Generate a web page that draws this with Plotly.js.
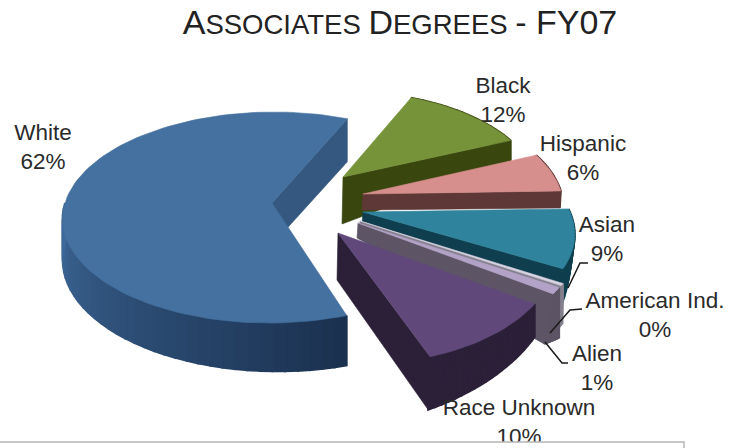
<!DOCTYPE html>
<html>
<head>
<meta charset="utf-8">
<script src="https://cdn.plot.ly/plotly-3.0.1.min.js"></script>
<style>html,body{margin:0;padding:0;background:#fff}#c{width:729px;height:448px}</style>
</head>
<body>
<div id="c"></div>
<script>
// Data
var categories = ['White','Black','Hispanic','Asian','American Ind.','Alien','Race Unknown'];
var values = [61.8,12,6,9,0.3,0.9,10];
// Styles
var topColors = ['#44719f','#779339','#d68f8d','#2f839c','#d9d4e4','#b3a2c7','#60497a'];
var faceColors = ['#34587f','#39470f','#5e3836','#0f3f4e','#85808e','#5d5565','#2b2038'];
var rimFrom = ['#3f6b9b','#39470f','#5e3836','#0f3f4e','#85808e','#5d5565','#2b2038'];
var rimTo = ['#1b3150','#39470f','#5e3836','#0f3f4e','#85808e','#5d5565','#2b2038'];
// Layout of the exploded slices
var apexX = [272,343,363,363,360,358,338];
var apexY = [203,177,194,212,221,223,233];
var scaleX = [1,0.93,0.96,1,1.06,1.06,1.03];
var scaleY = [1,0.94,1,1,1.1,1.1,1.1];
var skew = [-0.025,0,0,0.15,0,0,0.1];
var depthApex = [43,47,16,12,12,15,47];
var depthStart = [50,8,8,0,40,50,33];
var depthEnd = [43,20,17,50,50,50,53];
var leanEnd = [0,0,-1,-7,-9,-9,-2];
var labelX = [43,503,583,607,655,597,519];
var labelY = [149,102,160,241,317,370,424];
var leaderAsianX = [568,580,588], leaderAsianY = [288,263,263];
var leaderIndX = [550,570,582], leaderIndY = [333,310,309];
var leaderAlienX = [545,562,568], leaderAlienY = [342,363,363];

var firstAngle = 71, RX = 207, RY = 103.5, K = 0.1376, rad = Math.PI/180;
var total = values.reduce(function(a,b){return a+b;},0);

function project(i, deg){
  var u = Math.cos(deg*rad), v = Math.sin(deg*rad), s = 1/(1-K*v);
  var dy = RY*v*s*scaleY[i];
  return [apexX[i] + RX*u*s*scaleX[i] + skew[i]*dy, apexY[i] + dy];
}
function hex(c){return [1,3,5].map(function(p){return parseInt(c.substr(p,2),16);});}
function mix(a,b,t){var x=hex(a),y=hex(b);return 'rgb('+x.map(function(v,j){return Math.round(v+(y[j]-v)*t);}).join(',')+')';}
function poly(xs,ys,color,w){
  return {type:'scatter',mode:'lines',x:xs.concat(xs[0]),y:ys.concat(ys[0]),fill:'toself',fillcolor:color,
    line:{color:color,width:w||0.6},hoverinfo:'skip',showlegend:false};
}

var traces = [], a = firstAngle;
values.forEach(function(val,i){
  var sweep = val/total*360, start = a, end = a+sweep; a = end;
  var rimA = start, rimB = i===0 ? 180 : end;
  var stripCount = i===0 ? 36 : 20;
  for(var n=0;n<stripCount;n++){
    var t0=n/stripCount,t1=(n+1)/stripCount;
    var d0=rimA+(rimB-rimA)*t0,d1=rimA+(rimB-rimA)*t1;
    var p0=project(i,d0),p1=project(i,d1);
    var f0=(i===0)?(depthStart[0]+(40-depthStart[0])*t0):depthStart[i]+(depthEnd[i]-depthStart[i])*t0;
    var f1=(i===0)?(depthStart[0]+(40-depthStart[0])*t1):depthStart[i]+(depthEnd[i]-depthStart[i])*t1;
    var l0=(i===0)?0:leanEnd[i]*t0, l1=(i===0)?0:leanEnd[i]*t1;
    traces.push(poly([p0[0],p1[0],p1[0]+l1,p0[0]+l0],[p0[1],p1[1],p1[1]+f1,p0[1]+f0],mix(rimTo[i],rimFrom[i],t0),2));
  }
  var e = project(i,end);
  traces.push(poly([apexX[i],e[0],e[0]+leanEnd[i],apexX[i]-1],
                   [apexY[i],e[1],e[1]+depthEnd[i],apexY[i]+depthApex[i]],faceColors[i]));
  var xs=[apexX[i]],ys=[apexY[i]],steps=Math.max(4,Math.round(sweep/2));
  for(var k=0;k<=steps;k++){var p=project(i,start+sweep*k/steps);xs.push(p[0]);ys.push(p[1]);}
  traces.push(poly(xs,ys,topColors[i]));
});

[[leaderAsianX,leaderAsianY],[leaderIndX,leaderIndY],[leaderAlienX,leaderAlienY]].forEach(function(l){
  traces.push({type:'scatter',mode:'lines',x:l[0],y:l[1],line:{color:'#1a1a1a',width:1.5},hoverinfo:'skip',showlegend:false});
});

traces.push({type:'scatter',mode:'text',x:labelX,y:labelY,
  text:categories.map(function(c,i){return c+'<br>'+Math.round(values[i])+'%';}),
  textposition:'middle center',textfont:{family:'Liberation Sans, Arial, sans-serif',size:22.5,color:'#2a2a2a'},
  hoverinfo:'skip',showlegend:false,cliponaxis:false});

var big=34, small=27.5;
var layout = {
  width:729,height:448,margin:{l:0,r:0,t:0,b:0},paper_bgcolor:'#fff',plot_bgcolor:'#fff',showlegend:false,
  title:{text:'A<span style="font-size:'+small+'px">SSOCIATES </span>D<span style="font-size:'+small+'px">EGREES </span>- FY07',
    font:{family:'Liberation Sans, Arial, sans-serif',size:big,color:'#222'},
    x:400/729,xanchor:'center',xref:'paper',y:0.925,yanchor:'bottom',yref:'container'},
  xaxis:{range:[0,729],visible:false,fixedrange:true},
  yaxis:{range:[448,0],visible:false,fixedrange:true},
  shapes:[{type:'rect',layer:'above',xref:'x',yref:'y',x0:-3,x1:684,y0:442,y1:452,fillcolor:'#ffffff',line:{color:'#b5b5b5',width:1.5}}]
};
Plotly.newPlot('c',traces,layout,{displayModeBar:false,staticPlot:true});
</script>
</body>
</html>
